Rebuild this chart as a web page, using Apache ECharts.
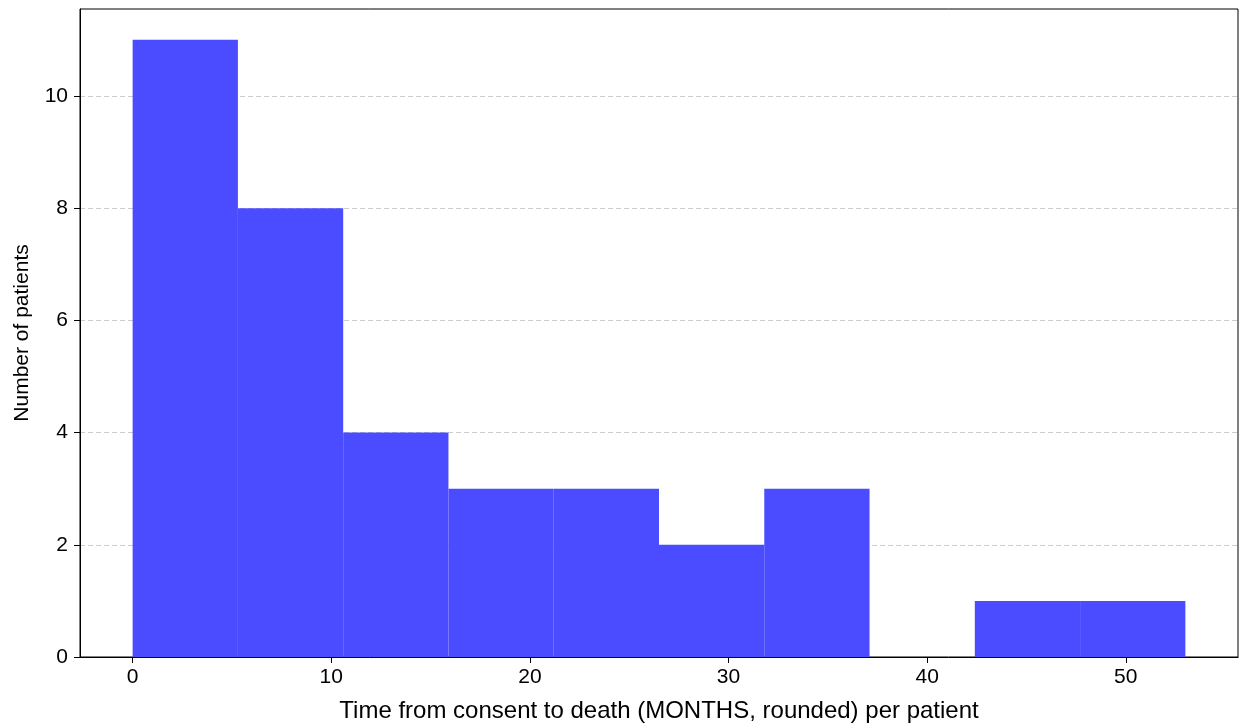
<!DOCTYPE html>
<html>
<head>
<meta charset="utf-8">
<script src="https://cdn.jsdelivr.net/npm/echarts@6/dist/echarts.min.js"></script>
<style>
  html, body { margin: 0; padding: 0; background: #fff; }
  #chart { width: 1239px; height: 727px; }
</style>
</head>
<body>
<div id="chart"></div>
<script>
// histogram bins (months) and counts
const binStarts = [0, 5.3, 10.6, 15.9, 21.2, 26.5, 31.8, 37.1, 42.4, 47.7]
const binEnds = [5.3, 10.6, 15.9, 21.2, 26.5, 31.8, 37.1, 42.4, 47.7, 53]
const counts = [11, 8, 4, 3, 3, 2, 3, 0, 1, 1]
const xTicks = [0, 10, 20, 30, 40, 50]
const yTicks = [0, 2, 4, 6, 8, 10]

const fontFamily = '"Liberation Sans", Arial, sans-serif'
const chart = echarts.init(document.getElementById('chart'))

const data = counts.map((c, i) => [binStarts[i], binEnds[i], c])

chart.setOption({
  animation: false,
  grid: {
    left: 80,
    right: 1,
    top: 9,
    bottom: 70,
    show: true,
    borderColor: '#000',
    borderWidth: 1,
    backgroundColor: 'transparent',
    outerBoundsMode: 'none'
  },
  xAxis: {
    type: 'value',
    min: -2.65,
    max: 55.65,
    name: 'Time from consent to death (MONTHS, rounded) per patient',
    nameLocation: 'middle',
    nameGap: 42,
    nameTextStyle: { color: '#000', fontSize: 24, fontFamily },
    axisLine: { show: true, onZero: false, lineStyle: { color: '#000', width: 1 } },
    axisTick: { show: true, length: 6, customValues: xTicks, lineStyle: { color: '#000' } },
    axisLabel: { customValues: xTicks, color: '#000', fontSize: 21, fontFamily, margin: 10 },
    splitLine: { show: false }
  },
  yAxis: {
    type: 'value',
    min: 0,
    max: 11.55,
    interval: 2,
    name: 'Number of patients',
    nameLocation: 'middle',
    nameGap: 47,
    nameTextStyle: { color: '#000', fontSize: 21, fontFamily },
    axisLine: { show: true, onZero: false, lineStyle: { color: '#000', width: 1 } },
    axisTick: { show: true, length: 6, customValues: yTicks, lineStyle: { color: '#000' } },
    axisLabel: { customValues: yTicks, color: '#000', fontSize: 21, fontFamily, margin: 12 },
    splitLine: {
      show: true,
      lineStyle: { color: '#cccccc', type: [5, 3], width: 1 }
    }
  },
  series: [{
    type: 'custom',
    data: data,
    encode: { x: [0, 1], y: 2 },
    renderItem: function (params, api) {
      const p0 = api.coord([api.value(0), api.value(2)])
      const p1 = api.coord([api.value(1), 0])
      return {
        type: 'rect',
        shape: { x: p0[0], y: p0[1], width: p1[0] - p0[0], height: p1[1] - p0[1] },
        style: { fill: '#4b4bff' }
      }
    }
  }]
})
</script>
</body>
</html>
